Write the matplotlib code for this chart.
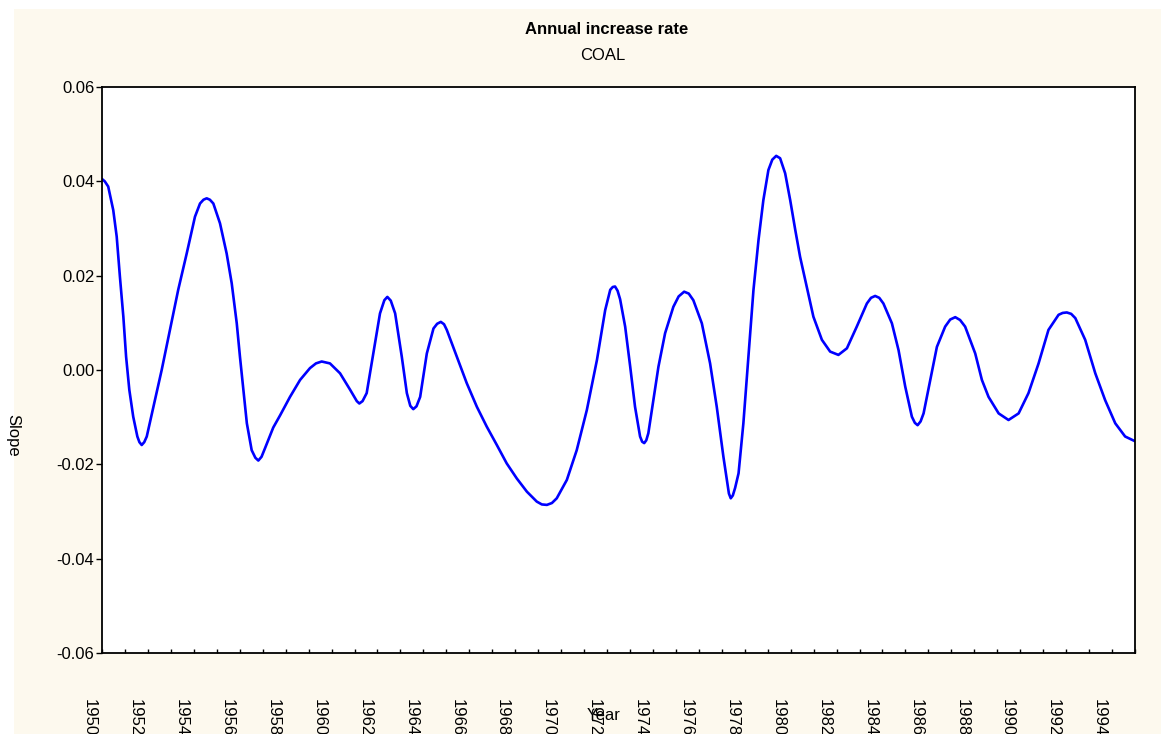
import matplotlib
matplotlib.use("Agg")
import matplotlib.pyplot as plt
import matplotlib.transforms as mtransforms
from matplotlib.patches import Rectangle

plt.rcParams['font.family'] = ['Liberation Sans', 'DejaVu Sans']
plt.rcParams['axes.unicode_minus'] = False

title = "Annual increase rate"
subtitle = "COAL"
x_label = "Year"
y_label = "Slope"

years = [
    1950.00, 1950.12, 1950.27, 1950.49, 1950.64, 1950.78, 1950.93, 1951.05, 1951.19, 1951.36,
    1951.54, 1951.63, 1951.73, 1951.84, 1951.95, 1952.24, 1952.60, 1952.96, 1953.32, 1953.69,
    1954.05, 1954.27, 1954.42, 1954.56, 1954.70, 1954.85, 1955.14, 1955.43, 1955.65, 1955.87,
    1956.01, 1956.16, 1956.31, 1956.52, 1956.68, 1956.81, 1956.95, 1957.10, 1957.46, 1957.76,
    1958.19, 1958.63, 1959.06, 1959.32, 1959.57, 1959.93, 1960.37, 1960.81, 1961.10, 1961.21,
    1961.35, 1961.53, 1961.82, 1962.11, 1962.30, 1962.43, 1962.58, 1962.77, 1963.06, 1963.28,
    1963.43, 1963.56, 1963.70, 1963.86, 1964.15, 1964.44, 1964.60, 1964.76, 1964.90, 1965.02,
    1965.46, 1965.89, 1966.33, 1966.76, 1967.20, 1967.63, 1968.07, 1968.51, 1968.94, 1969.16,
    1969.38, 1969.60, 1969.81, 1970.25, 1970.68, 1971.12, 1971.56, 1971.92, 1972.14, 1972.25,
    1972.35, 1972.46, 1972.57, 1972.79, 1973.01, 1973.22, 1973.44, 1973.53, 1973.62, 1973.71,
    1973.80, 1974.02, 1974.24, 1974.53, 1974.89, 1975.12, 1975.36, 1975.56, 1975.76, 1976.13,
    1976.49, 1976.78, 1977.07, 1977.24, 1977.31, 1977.39, 1977.48, 1977.58, 1977.73, 1977.94,
    1978.16, 1978.38, 1978.60, 1978.81, 1979.03, 1979.20, 1979.37, 1979.54, 1979.76, 1979.98,
    1980.20, 1980.41, 1980.70, 1980.99, 1981.36, 1981.72, 1982.08, 1982.45, 1982.88, 1983.32,
    1983.50, 1983.68, 1983.86, 1984.04, 1984.41, 1984.70, 1984.99, 1985.28, 1985.41, 1985.53,
    1985.66, 1985.79, 1986.08, 1986.37, 1986.73, 1986.95, 1987.17, 1987.38, 1987.60, 1988.04,
    1988.33, 1988.62, 1989.06, 1989.49, 1989.93, 1990.36, 1990.80, 1991.23, 1991.67, 1991.85,
    1992.03, 1992.22, 1992.40, 1992.83, 1993.27, 1993.70, 1994.14, 1994.57, 1995.00,
]
slope = [
    0.0405, 0.0400, 0.0389, 0.0339, 0.0283, 0.0198, 0.0113, 0.0028, -0.0042, -0.0099,
    -0.0141, -0.0153, -0.0159, -0.0153, -0.0141, -0.0078, 0.0000, 0.0085, 0.0170, 0.0247,
    0.0325, 0.0353, 0.0361, 0.0364, 0.0361, 0.0353, 0.0311, 0.0247, 0.0184, 0.0099,
    0.0028, -0.0042, -0.0113, -0.0170, -0.0186, -0.0192, -0.0184, -0.0166, -0.0122, -0.0096,
    -0.0057, -0.0021, 0.0004, 0.0014, 0.0018, 0.0014, -0.0007, -0.0042, -0.0066, -0.0071,
    -0.0066, -0.0049, 0.0035, 0.0120, 0.0148, 0.0155, 0.0147, 0.0120, 0.0028, -0.0049,
    -0.0076, -0.0083, -0.0077, -0.0057, 0.0035, 0.0088, 0.0098, 0.0102, 0.0097, 0.0085,
    0.0028, -0.0028, -0.0078, -0.0120, -0.0159, -0.0198, -0.0230, -0.0258, -0.0279, -0.0285,
    -0.0286, -0.0282, -0.0272, -0.0233, -0.0170, -0.0085, 0.0021, 0.0127, 0.0170, 0.0176,
    0.0177, 0.0168, 0.0150, 0.0092, 0.0007, -0.0078, -0.0141, -0.0152, -0.0155, -0.0149,
    -0.0134, -0.0064, 0.0007, 0.0078, 0.0134, 0.0156, 0.0166, 0.0162, 0.0148, 0.0099,
    0.0014, -0.0078, -0.0184, -0.0240, -0.0262, -0.0272, -0.0266, -0.0250, -0.0219, -0.0113,
    0.0028, 0.0170, 0.0276, 0.0360, 0.0424, 0.0446, 0.0454, 0.0449, 0.0417, 0.0360,
    0.0297, 0.0240, 0.0177, 0.0113, 0.0064, 0.0039, 0.0032, 0.0046, 0.0092, 0.0141,
    0.0153, 0.0157, 0.0153, 0.0141, 0.0099, 0.0042, -0.0035, -0.0099, -0.0112, -0.0117,
    -0.0109, -0.0092, -0.0021, 0.0049, 0.0092, 0.0107, 0.0112, 0.0106, 0.0092, 0.0035,
    -0.0021, -0.0057, -0.0092, -0.0106, -0.0092, -0.0049, 0.0014, 0.0085, 0.0117, 0.0121,
    0.0122, 0.0119, 0.0110, 0.0064, -0.0007, -0.0064, -0.0113, -0.0141, -0.0151,
]
x_ticks = list(range(1950, 1996))
x_tick_labels = [str(y) if y % 2 == 0 and y < 1995 else "" for y in x_ticks]
y_ticks = [-0.06, -0.04, -0.02, 0.00, 0.02, 0.04, 0.06]
y_tick_labels = ["-0.06", "-0.04", "-0.02", "0.00", "0.02", "0.04", "0.06"]

W, H = 1161, 734
fig = plt.figure(figsize=(W / 100, H / 100), dpi=100, facecolor="white")
cream = "#FDF9EE"
fig.patches.append(Rectangle((14 / W, 0), 1 - 14 / W, 1 - 9 / H, transform=fig.transFigure,
                             facecolor=cream, edgecolor="none", zorder=-10))

ax = fig.add_axes([102 / W, (H - 653) / H, 1033 / W, 566 / H])
ax.set_facecolor("white")
ax.plot(years, slope, color="#0000FF", linewidth=1.9, solid_joinstyle="round", solid_capstyle="round")

ax.set_xlim(1950, 1995)
ax.set_ylim(-0.06, 0.06)
ax.set_yticks(y_ticks)
ax.set_yticklabels(y_tick_labels)
ax.set_xticks(x_ticks)
ax.set_xticklabels(x_tick_labels, rotation=270, ha="right", va="top")

ax.tick_params(axis="y", direction="out", length=4.5, width=1, pad=1, labelsize=12, colors="black")
ax.tick_params(axis="x", direction="in", length=3, width=1, pad=33, labelsize=12, colors="black")
ax.tick_params(top=False, right=False)

offset = mtransforms.ScaledTranslation(-5 / 100, 0, fig.dpi_scale_trans)
for lbl in ax.get_xticklabels():
    lbl.set_transform(lbl.get_transform() + offset)

for side in ["left", "right", "top", "bottom"]:
    ax.spines[side].set_color("black")
    ax.spines[side].set_linewidth(1.3)

fig.text(607 / W, 1 - 29 / H, title, ha="center", va="center", fontsize=12, fontweight="bold")
fig.text(603 / W, 1 - 56 / H, subtitle, ha="center", va="center", fontsize=12)
fig.text(604 / W, 1 - 716 / H, x_label, ha="center", va="center", fontsize=12)
fig.text(13 / W, 1 - 435 / H, y_label, ha="center", va="center", fontsize=12, rotation=270)

fig.savefig("out.png", dpi=100, facecolor=fig.get_facecolor())
